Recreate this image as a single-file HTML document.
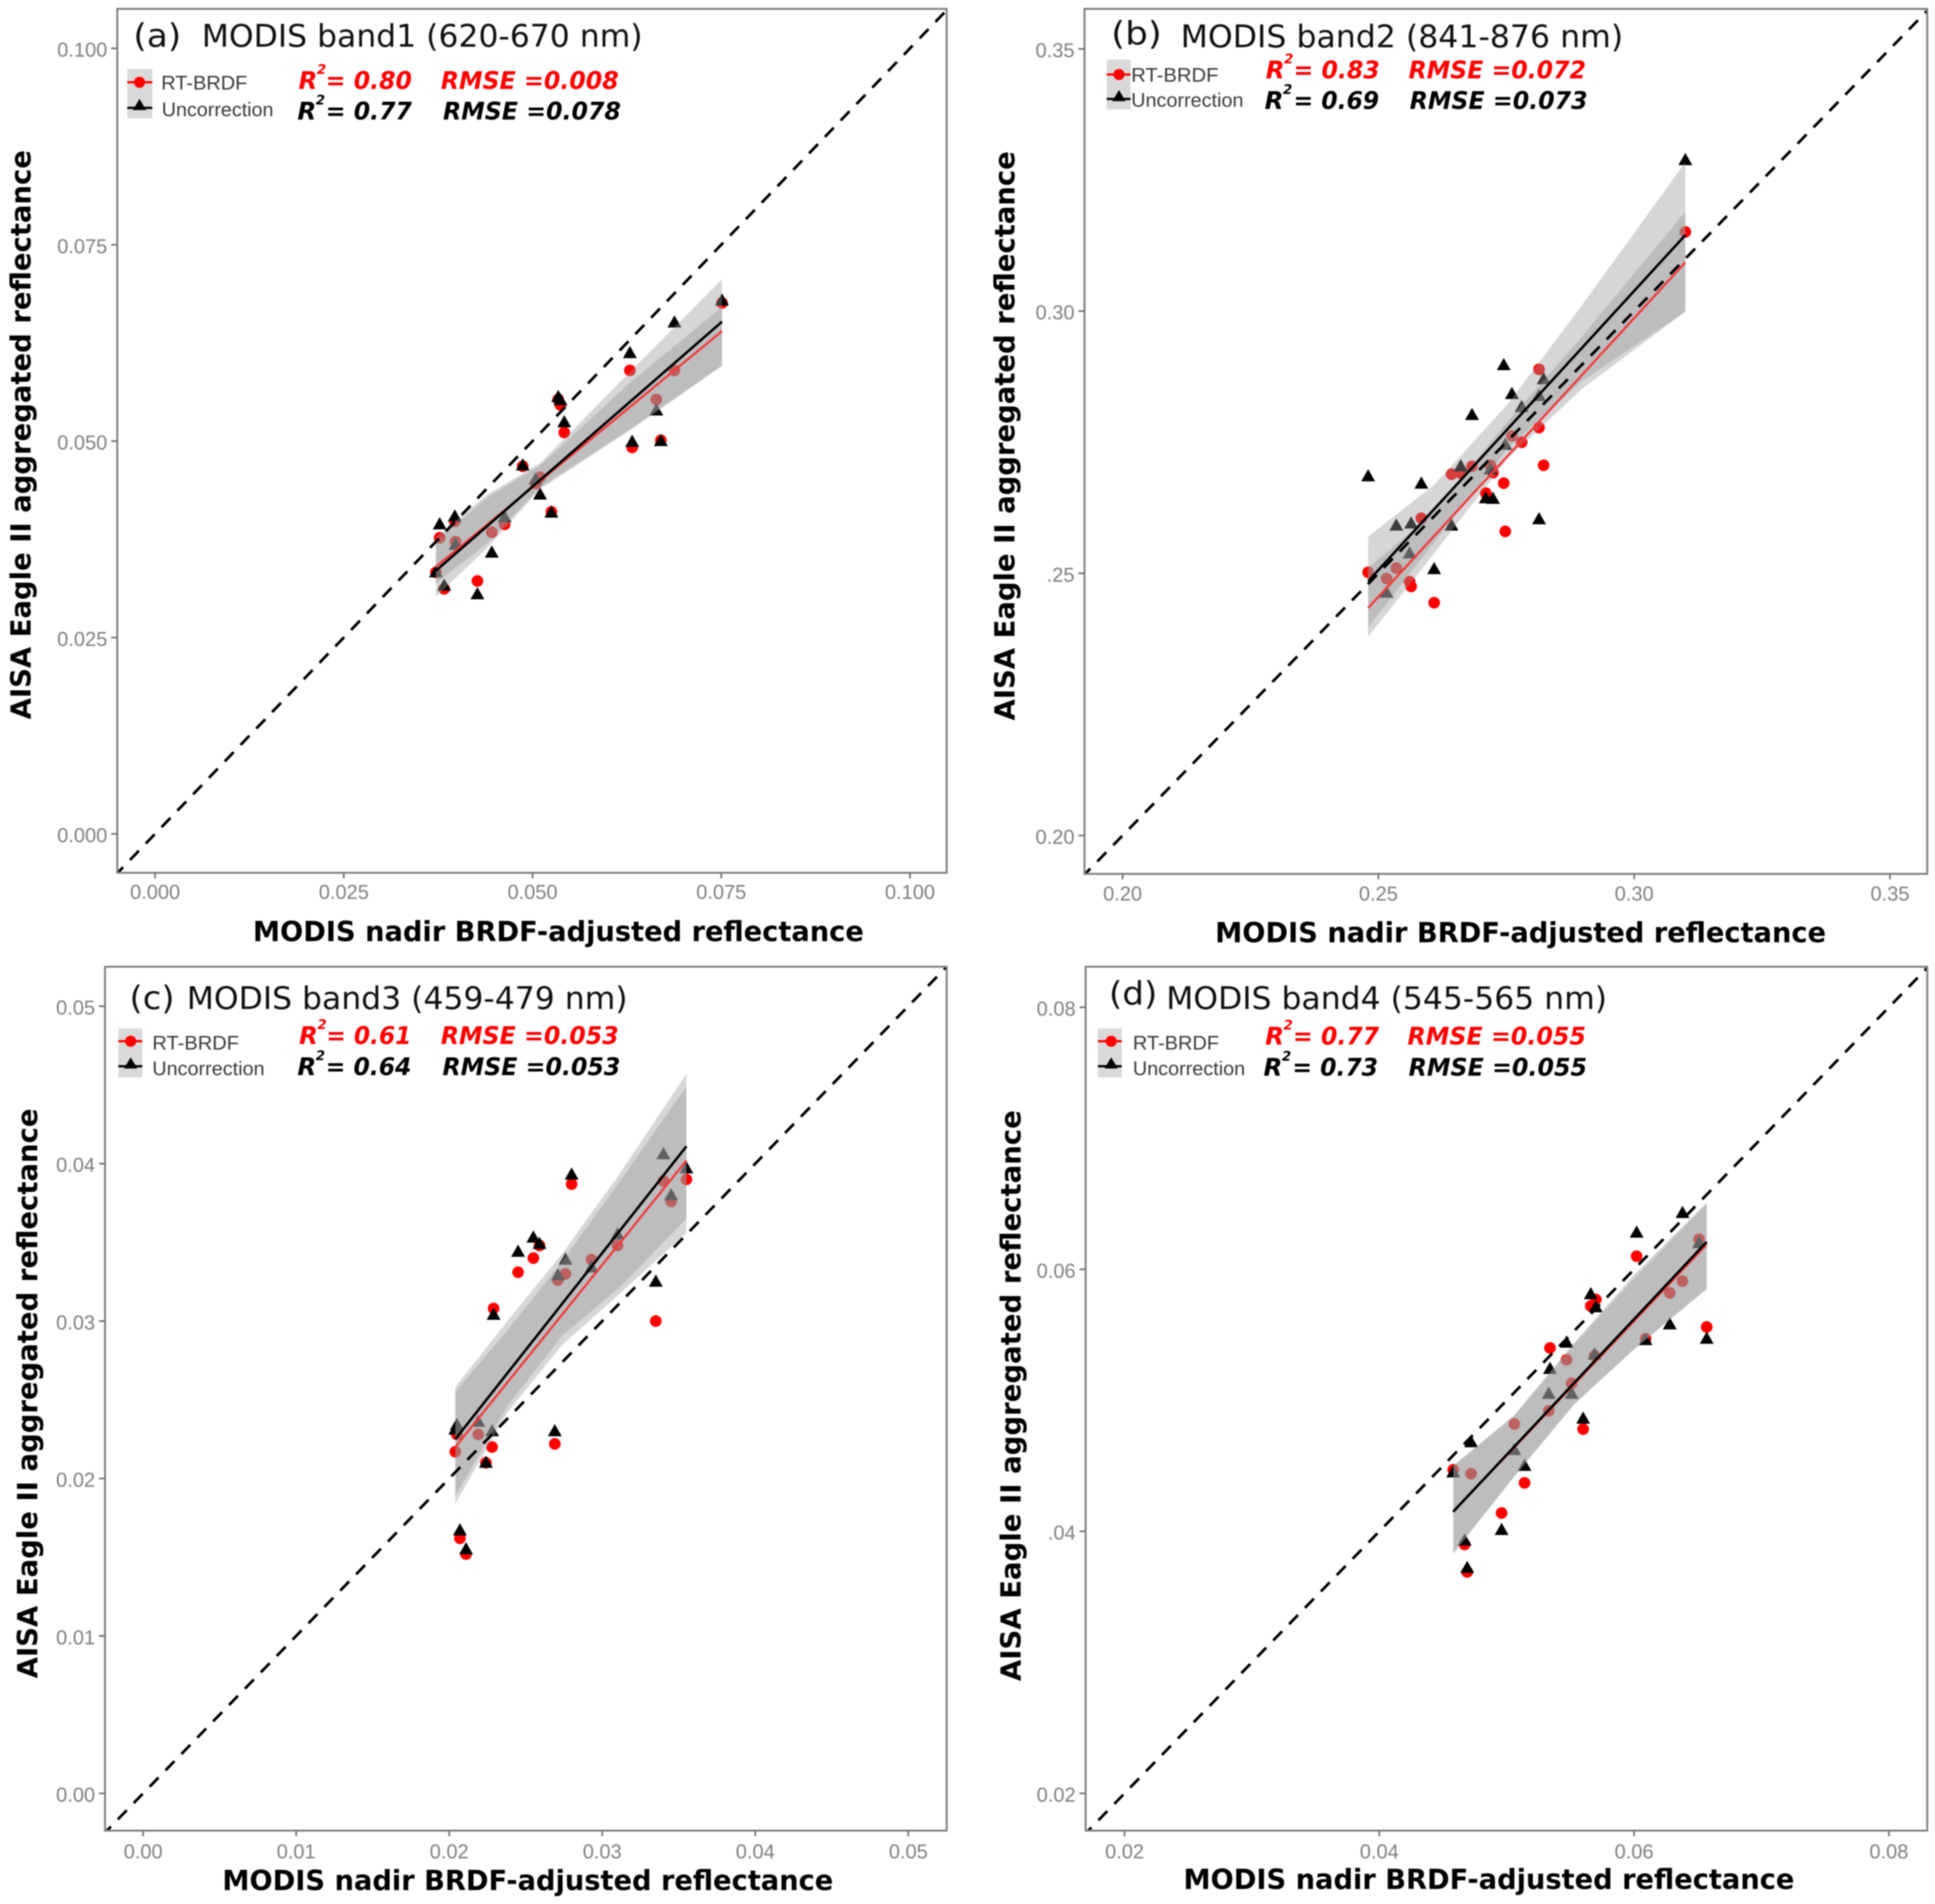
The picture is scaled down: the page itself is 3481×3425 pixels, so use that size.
<!DOCTYPE html>
<html>
<head>
<meta charset="utf-8">
<title>MODIS vs AISA Eagle II reflectance</title>
<style>
html,body{margin:0;padding:0;background:#fff}
svg{display:block;filter:blur(1px)}
.title{font-family:"DejaVu Sans",sans-serif;font-size:56px;fill:#111}
.tag{font-family:"DejaVu Sans",sans-serif;font-size:58px;fill:#111}
.axt{font-family:"DejaVu Sans",sans-serif;font-weight:bold;font-size:50px;fill:#000}
.leg{font-family:"Liberation Sans",sans-serif;font-size:35px;fill:#3a3a3a}
.st{font-family:"DejaVu Sans",sans-serif;font-weight:bold;font-style:italic;font-size:44px}
.sup{font-family:"DejaVu Sans",sans-serif;font-weight:bold;font-style:italic;font-size:24px}
.r{fill:#f00}.k{fill:#000}
.tick{font-family:"Liberation Sans",sans-serif;font-size:36px;fill:#7f7f7f}
</style>
</head>
<body>
<svg id="chart" xmlns="http://www.w3.org/2000/svg" width="3481" height="3425" viewBox="0 0 3481 3425">
<rect width="3481" height="3425" fill="#fff"/>
<g id="marks"></g>

<!-- Panel a annotations -->
<g>
<text class="tag" x="240" y="84" textLength="86" lengthAdjust="spacingAndGlyphs">(a)</text>
<text class="title" x="363" y="84" textLength="793" lengthAdjust="spacingAndGlyphs">MODIS band1 (620-670 nm)</text>
<rect x="229" y="124" width="45" height="89" fill="#d9d9d9"/>
<line x1="229" x2="274" y1="148" y2="148" stroke="#f00" stroke-width="4"/>
<circle cx="251" cy="148" r="10" fill="#f00"/>
<line x1="229" x2="274" y1="194" y2="194" stroke="#000" stroke-width="4"/>
<polygon points="251,178 263,198 239,198" fill="#000"/>
<text class="leg" x="290" y="161" textLength="155" lengthAdjust="spacingAndGlyphs">RT-BRDF</text>
<text class="leg" x="291" y="209" textLength="201" lengthAdjust="spacingAndGlyphs">Uncorrection</text>
<text class="st r" x="537" y="160">R</text>
<text class="sup r" x="570" y="133">2</text>
<text class="st r" x="586" y="160" textLength="155" lengthAdjust="spacingAndGlyphs">= 0.80</text>
<text class="st r" x="793" y="160" textLength="320" lengthAdjust="spacingAndGlyphs">RMSE =0.008</text>
<text class="st k" x="535" y="215">R</text>
<text class="sup k" x="568" y="188">2</text>
<text class="st k" x="586" y="215" textLength="155" lengthAdjust="spacingAndGlyphs">= 0.77</text>
<text class="st k" x="797" y="215" textLength="320" lengthAdjust="spacingAndGlyphs">RMSE =0.078</text>
<text class="axt" x="455" y="1693" textLength="1099" lengthAdjust="spacingAndGlyphs">MODIS nadir BRDF-adjusted reflectance</text>
<text class="axt" transform="translate(55 1294) rotate(-90)" textLength="1024" lengthAdjust="spacingAndGlyphs">AISA Eagle II aggregated reflectance</text>
</g>

<!-- Panel b annotations -->
<g>
<text class="tag" x="1999" y="80" textLength="91" lengthAdjust="spacingAndGlyphs">(b)</text>
<text class="title" x="2124" y="85" textLength="796" lengthAdjust="spacingAndGlyphs">MODIS band2 (841-876 nm)</text>
<rect x="1991" y="107" width="43" height="90" fill="#d9d9d9"/>
<line x1="1991" x2="2034" y1="134" y2="134" stroke="#f00" stroke-width="4"/>
<circle cx="2013" cy="134" r="10" fill="#f00"/>
<line x1="1991" x2="2034" y1="178" y2="178" stroke="#000" stroke-width="4"/>
<polygon points="2013,162 2025,182 2001,182" fill="#000"/>
<text class="leg" x="2035" y="147" textLength="157" lengthAdjust="spacingAndGlyphs">RT-BRDF</text>
<text class="leg" x="2035" y="192" textLength="202" lengthAdjust="spacingAndGlyphs">Uncorrection</text>
<text class="st r" x="2277" y="141">R</text>
<text class="sup r" x="2310" y="114">2</text>
<text class="st r" x="2327" y="141" textLength="155" lengthAdjust="spacingAndGlyphs">= 0.83</text>
<text class="st r" x="2534" y="141" textLength="319" lengthAdjust="spacingAndGlyphs">RMSE =0.072</text>
<text class="st k" x="2275" y="196">R</text>
<text class="sup k" x="2308" y="169">2</text>
<text class="st k" x="2327" y="196" textLength="154" lengthAdjust="spacingAndGlyphs">= 0.69</text>
<text class="st k" x="2536" y="196" textLength="320" lengthAdjust="spacingAndGlyphs">RMSE =0.073</text>
<text class="axt" x="2186" y="1695" textLength="1099" lengthAdjust="spacingAndGlyphs">MODIS nadir BRDF-adjusted reflectance</text>
<text class="axt" transform="translate(1825 1296) rotate(-90)" textLength="1024" lengthAdjust="spacingAndGlyphs">AISA Eagle II aggregated reflectance</text>
</g>

<!-- Panel c annotations -->
<g>
<text class="tag" x="233" y="1815" textLength="81" lengthAdjust="spacingAndGlyphs">(c)</text>
<text class="title" x="336" y="1815" textLength="793" lengthAdjust="spacingAndGlyphs">MODIS band3 (459-479 nm)</text>
<rect x="213" y="1850" width="43" height="88" fill="#d9d9d9"/>
<line x1="213" x2="256" y1="1873" y2="1873" stroke="#f00" stroke-width="4"/>
<circle cx="235" cy="1873" r="10" fill="#f00"/>
<line x1="213" x2="256" y1="1918" y2="1918" stroke="#000" stroke-width="4"/>
<polygon points="235,1902 247,1922 223,1922" fill="#000"/>
<text class="leg" x="274" y="1888" textLength="156" lengthAdjust="spacingAndGlyphs">RT-BRDF</text>
<text class="leg" x="274" y="1934" textLength="202" lengthAdjust="spacingAndGlyphs">Uncorrection</text>
<text class="st r" x="538" y="1878">R</text>
<text class="sup r" x="571" y="1851">2</text>
<text class="st r" x="587" y="1878" textLength="153" lengthAdjust="spacingAndGlyphs">= 0.61</text>
<text class="st r" x="793" y="1878" textLength="320" lengthAdjust="spacingAndGlyphs">RMSE =0.053</text>
<text class="st k" x="535" y="1934">R</text>
<text class="sup k" x="568" y="1907">2</text>
<text class="st k" x="586" y="1934" textLength="154" lengthAdjust="spacingAndGlyphs">= 0.64</text>
<text class="st k" x="796" y="1934" textLength="320" lengthAdjust="spacingAndGlyphs">RMSE =0.053</text>
<text class="axt" x="400" y="3400" textLength="1099" lengthAdjust="spacingAndGlyphs">MODIS nadir BRDF-adjusted reflectance</text>
<text class="axt" transform="translate(67 3019) rotate(-90)" textLength="1025" lengthAdjust="spacingAndGlyphs">AISA Eagle II aggregated reflectance</text>
</g>

<!-- Panel d annotations -->
<g>
<text class="tag" x="1995" y="1807" textLength="87" lengthAdjust="spacingAndGlyphs">(d)</text>
<text class="title" x="2098" y="1815" textLength="793" lengthAdjust="spacingAndGlyphs">MODIS band4 (545-565 nm)</text>
<rect x="1975" y="1850" width="43" height="88" fill="#d9d9d9"/>
<line x1="1975" x2="2018" y1="1873" y2="1873" stroke="#f00" stroke-width="4"/>
<circle cx="1999" cy="1873" r="10" fill="#f00"/>
<line x1="1975" x2="2018" y1="1918" y2="1918" stroke="#000" stroke-width="4"/>
<polygon points="1999,1902 2011,1922 1987,1922" fill="#000"/>
<text class="leg" x="2038" y="1888" textLength="155" lengthAdjust="spacingAndGlyphs">RT-BRDF</text>
<text class="leg" x="2038" y="1934" textLength="202" lengthAdjust="spacingAndGlyphs">Uncorrection</text>
<text class="st r" x="2276" y="1879">R</text>
<text class="sup r" x="2309" y="1852">2</text>
<text class="st r" x="2326" y="1879" textLength="155" lengthAdjust="spacingAndGlyphs">= 0.77</text>
<text class="st r" x="2532" y="1879" textLength="321" lengthAdjust="spacingAndGlyphs">RMSE =0.055</text>
<text class="st k" x="2273" y="1935">R</text>
<text class="sup k" x="2306" y="1908">2</text>
<text class="st k" x="2325" y="1935" textLength="154" lengthAdjust="spacingAndGlyphs">= 0.73</text>
<text class="st k" x="2534" y="1935" textLength="321" lengthAdjust="spacingAndGlyphs">RMSE =0.055</text>
<text class="axt" x="2129" y="3398" textLength="1099" lengthAdjust="spacingAndGlyphs">MODIS nadir BRDF-adjusted reflectance</text>
<text class="axt" transform="translate(1836 3024) rotate(-90)" textLength="1027" lengthAdjust="spacingAndGlyphs">AISA Eagle II aggregated reflectance</text>
</g>
</svg>

<script>
// ---- Panel a data ----
const aX = [.0372,.0377,.0383,.0397,.0398,.0427,.0446,.0463,.0487,.0504,.0510,.0525,.0534,.0537,.0542,.0629,.0632,.0664,.0670,.0688,.0751];
const aRed = [.0333,.0377,.0312,.0398,.0372,.0322,.0384,.0394,.0468,.0446,.0454,.0410,.0553,.0546,.0511,.0590,.0492,.0553,.0501,.0590,.0676];
const aBlack = [.0333,.0394,.0316,.0404,.0368,.0305,.0358,.0403,.0469,.0451,.0432,.0409,.0556,.0552,.0524,.0612,.0499,.0539,.0500,.0651,.0679];
const aFitX = [.0372,.0751];
const aFitRed = [.0340,.0640];
const aFitBlack = [.0335,.0652];
const aBandX = [.0372,.0440,.0510,.0630,.0751];
const aBandBlackUp = [.0378,.0432,.0472,.0589,.0706];
const aBandBlackLow = [.0319,.0370,.0441,.0516,.0596];
const aBandRedUp = [.0372,.0428,.0469,.0575,.0671];
const aBandRedLow = [.0302,.0364,.0439,.0514,.0596];
const aXTicks = [0,.025,.05,.075,.1];
const aXLabels = ['0.000','0.025','0.050','0.075','0.100'];
const aYTicks = [0,.025,.05,.075,.1];
const aYLabels = ['0.000','0.025','0.050','0.075','0.100'];

// ---- Panel b data ----
const bX = [.248,.2516,.2535,.2561,.2564,.2584,.2609,.2643,.2661,.2683,.2710,.2719,.2724,.2745,.2748,.2761,.2780,.2814,.2814,.2823,.31];
const bRed = [.2502,.2490,.2510,.2484,.2475,.2605,.2444,.2689,.2691,.2704,.2653,.2706,.2692,.2672,.2580,.2762,.2750,.2889,.2778,.2706,.3151];
const bBlack = [.2685,.2463,.2591,.2538,.2595,.2671,.2508,.2591,.2704,.2802,.2643,.2698,.2642,.2897,.2745,.2842,.2817,.2603,.2838,.2870,.3288];
const bFitX = [.248,.31];
const bFitRed = [.2434,.3093];
const bFitBlack = [.2485,.3145];
const bBandX = [.248,.2608,.2753,.2897,.31];
const bBandBlackUp = [.2570,.2668,.2823,.3010,.3284];
const bBandBlackLow = [.2397,.2558,.2738,.2866,.2999];
const bBandRedUp = [.2510,.2616,.2790,.2950,.3190];
const bBandRedLow = [.2379,.2537,.2719,.2851,.2999];
const bXTicks = [.2,.25,.3,.35];
const bXLabels = ['0.20','0.25','0.30','0.35'];
const bYTicks = [.2,.25,.3,.35];
const bYLabels = ['0.20','.25','0.30','0.35'];

// ---- Panel c data ----
const cX = [.0204,.0205,.0207,.0211,.0219,.0224,.0228,.0229,.0245,.0255,.0259,.0269,.0271,.0276,.0280,.0293,.0310,.0335,.0340,.0345,.0355];
const cRed = [.0217,.0228,.0162,.0152,.0228,.0210,.0220,.0308,.0331,.0340,.0348,.0222,.0326,.0330,.0387,.0339,.0348,.0300,.0389,.0376,.0390];
const cBlack = [.0231,.0234,.0167,.0155,.0236,.0210,.0230,.0304,.0344,.0353,.0349,.0230,.0329,.0339,.0393,.0334,.0355,.0325,.0406,.0380,.0397];
const cFitX = [.0204,.0355];
const cFitRed = [.0220,.0402];
const cFitBlack = [.0225,.0411];
const cBandX = [.0204,.0238,.0274,.0311,.0355];
const cBandBlackUp = [.0258,.0300,.0343,.0393,.0457];
const cBandBlackLow = [.0189,.0246,.0291,.0321,.0365];
const cBandRedUp = [.0255,.0294,.0338,.0388,.0449];
const cBandRedLow = [.0184,.0242,.0285,.0317,.0356];
const cXTicks = [0,.01,.02,.03,.04,.05];
const cXLabels = ['0.00','0.01','0.02','0.03','0.04','0.05'];
const cYTicks = [0,.01,.02,.03,.04,.05];
const cYLabels = ['0.00','0.01','0.02','0.03','0.04','0.05'];

// ---- Panel d data ----
const dX = [.0458,.0467,.0469,.0472,.0496,.0506,.0514,.0533,.0534,.0547,.0551,.0560,.0566,.0570,.0569,.0609,.0602,.0628,.0638,.0651,.0657];
const dRed = [.0447,.0390,.0369,.0444,.0414,.0482,.0437,.0492,.0540,.0531,.0513,.0478,.0572,.0577,.0534,.0547,.0610,.0582,.0591,.0623,.0556];
const dBlack = [.0445,.0393,.0372,.0468,.0401,.0462,.0450,.0505,.0524,.0544,.0505,.0486,.0581,.0571,.0535,.0546,.0628,.0558,.0643,.0620,.0547];
const dFitX = [.0458,.0657];
const dFitRed = [.0415,.0619];
const dFitBlack = [.0415,.0621];
const dBandX = [.0458,.0506,.0553,.0600,.0657];
const dBandBlackUp = [.0450,.0489,.0544,.0596,.0651];
const dBandBlackLow = [.0383,.0442,.0497,.0539,.0585];
const dBandRedUp = [.0450,.0488,.0543,.0593,.0650];
const dBandRedLow = [.0383,.0442,.0497,.0539,.0585];
const dXTicks = [.02,.04,.06,.08];
const dXLabels = ['0.02','0.04','0.06','0.08'];
const dYTicks = [.02,.04,.06,.08];
const dYLabels = ['0.02','.04','0.06','0.08'];

const NS = 'http://www.w3.org/2000/svg';
const root = document.getElementById('marks');

function svgEl(parent, tag, attrs) {
  const el = document.createElementNS(NS, tag);
  for (const k in attrs) el.setAttribute(k, attrs[k]);
  parent.appendChild(el);
  return el;
}
function linearScale(d0, d1, p0, p1) {
  return function (v) { return p0 + (v - d0) / (d1 - d0) * (p1 - p0); };
}
function bandPoints(xs, up, low, sx, sy) {
  const pts = [];
  xs.forEach(function (v, i) { pts.push(sx(v).toFixed(1) + ',' + sy(up[i]).toFixed(1)); });
  for (let i = xs.length - 1; i >= 0; i--) pts.push(sx(xs[i]).toFixed(1) + ',' + sy(low[i]).toFixed(1));
  return pts.join(' ');
}

function drawPanel(id, box, xMap, yMap, d) {
  const sx = linearScale(xMap[0], xMap[1], xMap[2], xMap[3]);
  const sy = linearScale(yMap[0], yMap[1], yMap[2], yMap[3]);
  const g = svgEl(root, 'g', {});
  
  

  const clip = svgEl(g, 'clipPath', { id: 'clip-' + id });
  svgEl(clip, 'rect', { x: box.l, y: box.t, width: box.r - box.l, height: box.b - box.t });

  const plot = svgEl(g, 'g', { 'clip-path': 'url(#clip-' + id + ')' });
  
  

  d.x.forEach(function (v, i) {
    const c = svgEl(plot, 'circle', { cx: sx(v), cy: sy(d.red[i]), r: 10.5, fill: '#f00' });
    
    
  });
  d.x.forEach(function (v, i) {
    const px = sx(v), py = sy(d.black[i]);
    const t = svgEl(plot, 'polygon', {
      points: px + ',' + (py - 13) + ' ' + (px + 12.5) + ',' + (py + 9) + ' ' + (px - 12.5) + ',' + (py + 9),
      fill: '#000'
    });
    
    
  });

  const bandRed = svgEl(plot, 'polygon', { points: bandPoints(d.bandX, d.redUp, d.redLow, sx, sy), fill: '#999', 'fill-opacity': .4 });
  
  
  const bandBlack = svgEl(plot, 'polygon', { points: bandPoints(d.bandX, d.blackUp, d.blackLow, sx, sy), fill: '#999', 'fill-opacity': .4 });
  
  

  const fitRed = svgEl(plot, 'line', { x1: sx(d.fitX[0]), x2: sx(d.fitX[1]), y1: sy(d.fitRed[0]), y2: sy(d.fitRed[1]), stroke: '#f23a3a', 'stroke-width': 4 });
  
  
  const fitBlack = svgEl(plot, 'line', { x1: sx(d.fitX[0]), x2: sx(d.fitX[1]), y1: sy(d.fitBlack[0]), y2: sy(d.fitBlack[1]), stroke: '#000', 'stroke-width': 4.5 });
  
  

  const perUnit = (xMap[3] - xMap[2]) / (xMap[1] - xMap[0]);
  const diagLo = xMap[0] - (xMap[2] - box.l) / perUnit;
  const diagHi = xMap[1] + (box.r - xMap[3]) / perUnit;
  const one = svgEl(plot, 'line', {
    x1: sx(diagLo), y1: sy(diagLo), x2: sx(diagHi), y2: sy(diagHi),
    stroke: '#000', 'stroke-width': 5, 'stroke-dasharray': '23 18', 'stroke-dashoffset': 8
  });
  
  

  const frame = svgEl(g, 'rect', { x: box.l, y: box.t, width: box.r - box.l, height: box.b - box.t, fill: 'none', stroke: '#7f7f7f', 'stroke-width': 3.5 });
  
  

  d.xTicks.forEach(function (v, i) {
    const px = sx(v);
    const tk = svgEl(g, 'line', { x1: px, x2: px, y1: box.b, y2: box.b + 10, stroke: '#707070', 'stroke-width': 3 });
    
    
    const lb = svgEl(g, 'text', { x: px, y: box.xLab, 'text-anchor': 'middle', class: 'tick' });
    lb.textContent = d.xLabels[i];
    
    
  });
  d.yTicks.forEach(function (v, i) {
    const py = sy(v);
    const tk = svgEl(g, 'line', { x1: box.l - 11, x2: box.l, y1: py, y2: py, stroke: '#707070', 'stroke-width': 3 });
    
    
    const lb = svgEl(g, 'text', { x: box.l - 18, y: py + 15, 'text-anchor': 'end', class: 'tick' });
    lb.textContent = d.yLabels[i];
    
    
  });
}

drawPanel('a', { l: 211, r: 1703, t: 16, b: 1570, xLab: 1617 }, [0, .1, 279, 1637], [0, .1, 1500, 87], {
  x: aX, red: aRed, black: aBlack, fitX: aFitX, fitRed: aFitRed, fitBlack: aFitBlack,
  bandX: aBandX, blackUp: aBandBlackUp, blackLow: aBandBlackLow, redUp: aBandRedUp, redLow: aBandRedLow,
  xTicks: aXTicks, xLabels: aXLabels, yTicks: aYTicks, yLabels: aYLabels
});
drawPanel('b', { l: 1951, r: 3467, t: 16, b: 1572, xLab: 1620 }, [.2, .35, 2019.5, 3400], [.2, .35, 1503, 88], {
  x: bX, red: bRed, black: bBlack, fitX: bFitX, fitRed: bFitRed, fitBlack: bFitBlack,
  bandX: bBandX, blackUp: bBandBlackUp, blackLow: bBandBlackLow, redUp: bBandRedUp, redLow: bBandRedLow,
  xTicks: bXTicks, xLabels: bXLabels, yTicks: bYTicks, yLabels: bYLabels
});
drawPanel('c', { l: 189, r: 1703, t: 1739, b: 3293, xLab: 3343 }, [0, .05, 257.5, 1634], [0, .05, 3226, 1810], {
  x: cX, red: cRed, black: cBlack, fitX: cFitX, fitRed: cFitRed, fitBlack: cFitBlack,
  bandX: cBandX, blackUp: cBandBlackUp, blackLow: cBandBlackLow, redUp: cBandRedUp, redLow: cBandRedLow,
  xTicks: cXTicks, xLabels: cXLabels, yTicks: cYTicks, yLabels: cYLabels
});
drawPanel('d', { l: 1953, r: 3467, t: 1739, b: 3293, xLab: 3343 }, [.02, .08, 2023, 3398], [.02, .08, 3226, 1812], {
  x: dX, red: dRed, black: dBlack, fitX: dFitX, fitRed: dFitRed, fitBlack: dFitBlack,
  bandX: dBandX, blackUp: dBandBlackUp, blackLow: dBandBlackLow, redUp: dBandRedUp, redLow: dBandRedLow,
  xTicks: dXTicks, xLabels: dXLabels, yTicks: dYTicks, yLabels: dYLabels
});
</script>
</body>
</html>
